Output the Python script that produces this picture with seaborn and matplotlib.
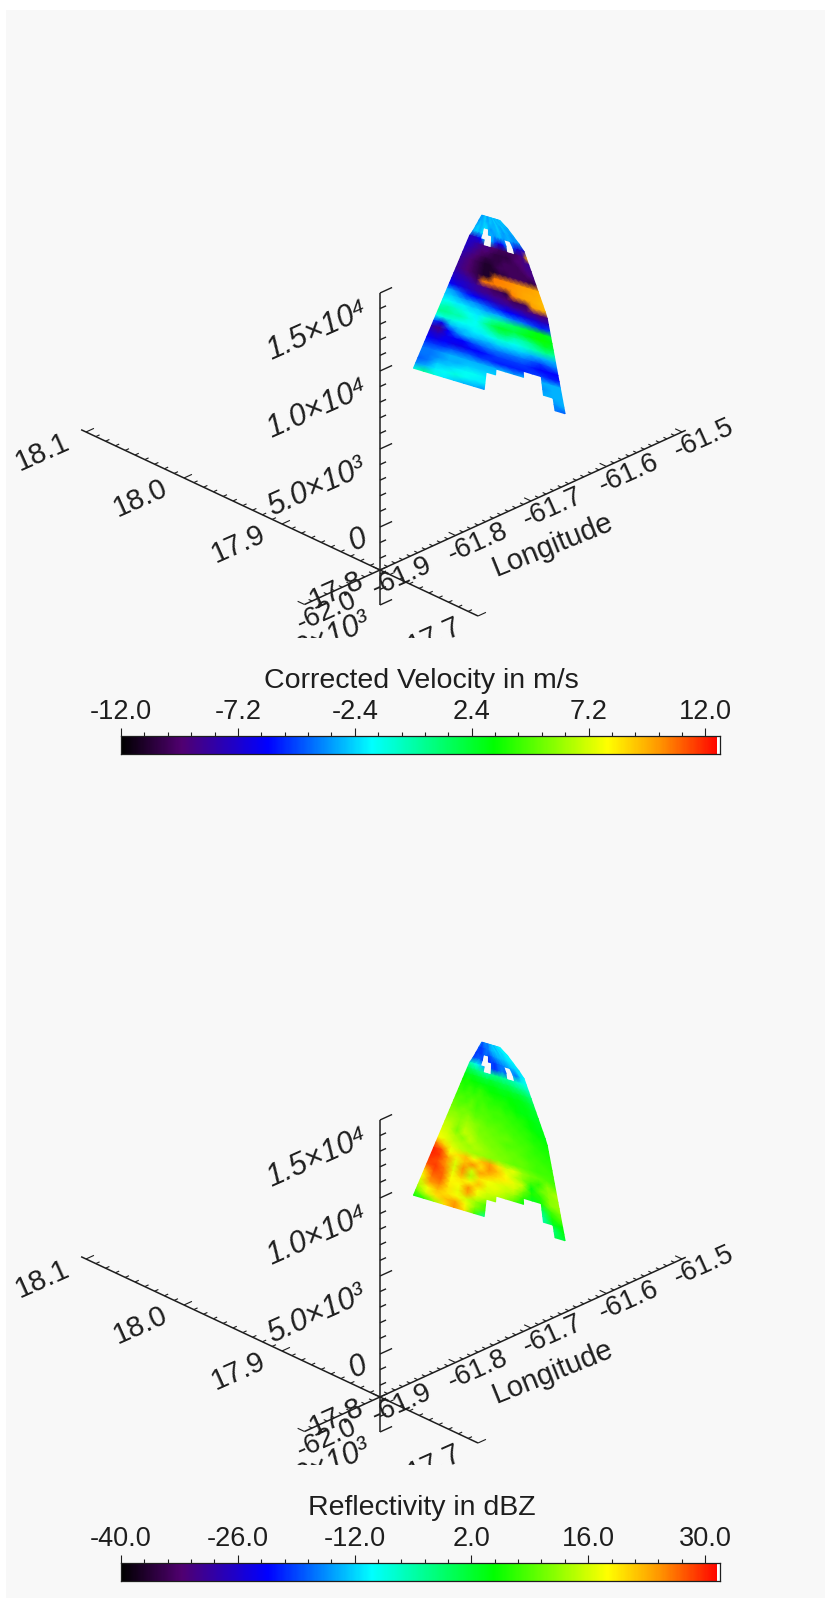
import numpy as np
import matplotlib
matplotlib.use('Agg')
import matplotlib.pyplot as plt
import seaborn as sns
from matplotlib.colors import LinearSegmentedColormap
from matplotlib.patches import Rectangle

nan = float('nan')

# color table, stops are fractions of the bar
table_stops = [0.0, 0.10, 0.244, 0.419, 0.623, 0.813, 0.90, 1.0]
table_colors = ['#000000', '#500070', '#0000ff', '#00ffff', '#00ff00', '#ffff00', '#ff9600', '#ff0000']

# axis ticks
lat_ticks = [17.7, 17.8, 17.9, 18.0, 18.1]
lon_ticks = [-62.0, -61.9, -61.8, -61.7, -61.6, -61.5]
alt_ticks = [-5000, 0, 5000, 10000, 15000]
alt_labels = ['-5.0×10³', '0', '5.0×10³', '1.0×10⁴', '1.5×10⁴']

# wedge outline, metres and degrees
left_alts = [470, 10130, 10480, 11600]
left_lats = [17.95, 17.9028, 17.900, 17.893]
right_alts = [470, 6340, 10160, 11487, 11600]
right_lats = [17.8235, 17.8387, 17.8582, 17.8749, 17.878]

# radial velocity, top row is the highest gate
velocity = [
    [-3, -3.5, -3, -2.5, -3, -3.5, -3, -2.5, -3, -2.5, -3, -2.5, -3, -3, -2.5, -2.5],
    [-3.5, -3, -3, -2.5, -3, -3, -2.5, -3, -3, -2.5, -3, -3, -2.5, -3, -3, -3],
    [-3, -2.5, -3, -2.5, -2, -3, -3.5, -3, -3, -2.5, -3, -3.5, -3, -3, -3.5, -3],
    [-3, -2.5, -3, -2, nan, -3, -3, -3.5, -3, -3, -3.5, -3, -3, -3.5, -3.5, -3.5],
    [-7.5, -7.5, -7, -6, -3, nan, -3, -5, -7, -6, -4, nan, -5, -7, -7.5, -7.5],
    [-7.5, -7.5, -8, -8.5, -9, -9, -9.5, -9.5, -10, -10, -10, -10, -10, -9.5, -9, 9.5],
    [-7.5, -8, -8.5, -9, -9.5, -9.5, -10, -10.5, -10.5, -10.5, -10.5, -10, -9.5, -9.5, -9, -8.5],
    [-8, -8.5, -9, -9.5, -10, -10.5, -10.5, -10.5, -10.5, -10, -10, -10, -10, -9.5, -9, -9],
    [-8.5, -9, -9.5, -10, -10.5, -11, -11, -10.5, -10, -10, -10, -10, -10, -10, -9.5, -9],
    [-8.5, -9, -9.5, -10, -10.5, -11, -11, -11, -10.5, -10.5, -10, -10, -10, -10, -10.5, -10],
    [-8.5, -9, -9.5, -10, -10.5, -11, -11, 10.5, 10.5, 10.3, 10.3, 10.1, 10, 10, 9.8, 9.7],
    [-7.5, -8, -8.5, -9, -10, 10.5, 10.5, 10.5, 10.3, 10.3, 10.1, 10, 9.8, 9.7, 9.7, 9.5],
    [-7, -7.5, -7.5, -8, -8.5, -9, -9.5, -10, -10, -10.5, 10.5, 10, 9.8, 9.7, 9.5, 9.3],
    [-6, -6.5, -7, -7.5, -8, -8.5, -8.5, -9, -9, -9.5, -10, -10, -10, 10, 9.7, 9.5],
    [-3, -3.5, -4.5, -5.5, -6, -6.5, -7, -7.5, -8, -8, -8.5, -8.5, -9, -9, -9.5, -9],
    [-2.5, -2.5, -3, -3.5, -3.5, -4, -4.5, -5, -5.5, -6, -6, -6.5, -7, -7, -7.5, -7.5],
    [-1.5, -1.5, -2, -2, -2.5, -2.5, -3, -3, -3, -3.5, -4, -4, -4.5, -5, -5.5, -5],
    [-0.5, 0, -0.5, -1, -1.5, -2, -1, 0, 0.5, 1, 1.5, 2, 2.5, 3, 3, 2.5],
    [0.5, 0.5, 0, 0, -1, -1.5, 0, 1.5, 2.5, 2.5, 2, 2.5, 3, 3.5, 3.5, 3],
    [-1.5, -1, -1, -1.5, -1.5, -1.5, -1, 0, 1, 1, 0, 0, 0.5, 1.5, 2.5, 2],
    [-5, -6.5, -3, -2.5, -2.5, -2, -2, -1.5, -1, -1, -1.5, -1, -0.5, 0, 0.5, 0],
    [-8, -9, -6, -4, -3, -3, -3, -3, -2.5, -2.5, -2.5, -2.5, -3, -3, -3, -3],
    [-7, -7.5, -6.5, -6, -6, -5, -4.5, -4, -4, -4, -4, -4, -4.5, -5, -4.5, -4],
    [-6, -6.5, -6, -6.5, -6.5, -6, -6, -5.5, -5, -5, -5, -5, -5.5, -6, -6, -6],
    [-5, -5, -5, -4.5, -4.5, -4.5, -5, -5, -5.5, -5.5, -5.5, -5.5, -5, -5, -5.5, -5.5],
    [-4, -4, -3.5, -3, -3, -3, -3, -3, -3, -3, -3.5, -3, nan, -3, -3, -3],
    [-4, -4, -3.5, -3, -3, -2.5, -2.5, -2.5, -2.5, nan, nan, nan, nan, -3.5, -3, -3],
    [-4.5, -4, -2.5, -2.5, -2, -1.5, -1.5, -2, nan, nan, nan, nan, nan, -3, -3, -3],
    [-3.5, -3, -2, -1.5, -1, -1.5, -2, -2, nan, nan, nan, nan, nan, nan, -3.5, -3],
    [-1, 0.5, -1, -2, -2.5, -3, -3, -3.5, nan, nan, nan, nan, nan, nan, -4, -4.5],
]

reflectivity = [
    [-16, -18, -16, -15, -16, -17, -15, -14, -13, -12, -14, -12, -12, -11, -11, -10],
    [-18, -20, -19, -18, -17, -16, -14, -13, -13, -12, -13, -11, -12, -11, -10, -10],
    [-20, -19, -20, -18, -17, -19, -18, -16, -15, -14, -13, -13, -12, -11, -11, -10],
    [-19, -18, -17, -20, nan, -21, -19, -20, -18, -17, -16, -15, -14, -13, -12, -11],
    [-6, -7, -9, -12, -14, nan, -19, -20, -18, -16, -18, nan, -16, -17, -12, -10],
    [0, -1, -2, -3, -4, -5, -4, -3, -3, -4, -4, -5, -6, -7, -8, -9],
    [4, 3, 3, 2, 2, 1, 2, 1, 1, 0, 0, -1, -2, -3, -4, -6],
    [5, 6, 5, 5, 4, 4, 4, 4, 3, 3, 3, 2, 2, 1, 0, -2],
    [7, 6, 7, 6, 7, 6, 5, 5, 5, 4, 5, 4, 4, 3, 2, 0],
    [8, 7, 8, 7, 8, 7, 7, 6, 6, 6, 5, 5, 4, 4, 3, 2],
    [8, 9, 8, 9, 8, 8, 7, 7, 7, 6, 6, 5, 4, 4, 3, 3],
    [10, 9, 9, 10, 8, 9, 8, 8, 8, 7, 7, 6, 6, 5, 4, 3],
    [11, 10, 11, 10, 9, 9, 9, 8, 8, 8, 7, 7, 6, 5, 4, 4],
    [12, 12, 11, 12, 10, 10, 9, 9, 9, 8, 8, 7, 7, 6, 5, 4],
    [13, 13, 12, 13, 12, 11, 10, 10, 9, 9, 8, 8, 7, 6, 6, 5],
    [15, 14, 12, 14, 13, 11, 11, 10, 10, 10, 9, 8, 8, 7, 6, 6],
    [16, 15, 11, 15, 14, 12, 11, 11, 10, 9, 9, 9, 8, 7, 7, 6],
    [17, 16, 14, 12, 15, 13, 12, 11, 11, 10, 10, 9, 8, 8, 7, 7],
    [18, 17, 15, 14, 13, 14, 13, 12, 11, 11, 10, 10, 9, 8, 8, 7],
    [26, 21, 17, 15, 14, 13, 13, 12, 12, 11, 10, 10, 9, 8, 8, 8],
    [30, 28, 18, 20, 22, 18, 22, 24, 20, 16, 17, 13, 11, 10, 9, 8],
    [30, 29, 24, 17, 22, 25, 20, 25, 22, 18, 15, 12, 9, 7, 12, 10],
    [29, 28, 24, 16, 25, 16, 24, 22, 20, 19, 17, 15, 4, 10, 12, 14],
    [28, 29, 26, 17, 24, 14, 20, 18, 17, 16, 16, 11, 6, 7, 12, 13],
    [22, 28, 27, 18, 20, 18, 22, 17, 17, 15, 13, 7, 3, 6, 12, 13],
    [18, 26, 27, 19, 18, 25, 18, 16, 15, 13, 9, 4, nan, 0, 8, 11],
    [16, 24, 25, 20, 17, 24, 17, 14, 12, nan, nan, nan, nan, -4, 6, 9],
    [14, 18, 22, 20, 18, 16, 13, 9, nan, nan, nan, nan, nan, -5, 3, 5],
    [10, 16, 20, 22, 24, 18, 12, 8, nan, nan, nan, nan, nan, nan, -2, 4],
    [4, 7, 13, 20, 25, 20, 8, -4, nan, nan, nan, nan, nan, nan, 0, 2],
]

# colour bars: ticks, and where the bar really ends
velocity_ticks = [-12.0, -7.2, -2.4, 2.4, 7.2, 12.0]
velocity_top = 12.6
reflectivity_ticks = [-40.0, -26.0, -12.0, 2.0, 16.0, 30.0]
reflectivity_top = 31.8

W, H = 825, 1598
FLOOR = -2756
PANEL_SHIFT = 827
BACKGROUND = '#f8f8f8'

sns.set_theme(style='white')
plt.rcParams['font.family'] = ['Liberation Sans', 'DejaVu Sans']
INK = '#1e1e1e'

cmap = LinearSegmentedColormap.from_list('radar', list(zip(table_stops, table_colors)), N=512)
cmap.set_over('white')
cmap.set_bad(BACKGROUND)


def project(lon, lat, alt):
    # oblique view of the box, result is in figure pixels of the upper panel
    dlon = np.asarray(lon) + 61.9
    dlat = np.asarray(lat) - 17.8
    x = 380 + 755 * dlon - 980 * dlat
    y = 527 - 345 * dlon - 460 * dlat - 0.0156 * np.asarray(alt)
    return x, y


def axes_px(fig, left, top, right, bottom):
    return fig.add_axes([left / W, 1 - bottom / H, (right - left) / W, (bottom - top) / H])


def segment(ax, lon, lat, alt, **kw):
    x, y = project(lon, lat, alt)
    ax.plot(x, y, color=INK, solid_capstyle='butt', **kw)


def draw_box(ax):
    # latitude axis, ticks run along longitude
    segment(ax, [-61.9, -61.9], [17.7, 18.105], [FLOOR, FLOOR], lw=1.1)
    for lat in np.arange(17.7, 18.1001, 0.01):
        major = abs(lat * 10 - round(lat * 10)) < 1e-6
        dl = 0.0105 if major else 0.005
        segment(ax, [-61.9, -61.9 + dl], [lat, lat], [FLOOR, FLOOR], lw=0.8)
    for lat in lat_ticks:
        x, y = project(-61.9, lat, FLOOR)
        ax.text(x - 44, y + 20, f'{lat:.1f}', fontsize=21, color=INK, rotation=24,
                ha='center', va='center', rotation_mode='anchor', clip_on=True)

    # longitude axis, ticks run along latitude
    segment(ax, [-62.0, -61.495], [17.8, 17.8], [FLOOR, FLOOR], lw=1.1)
    for lon in np.arange(-62.0, -61.4999, 0.01):
        major = abs(lon * 10 - round(lon * 10)) < 1e-6
        dl = 0.007 if major else 0.0035
        segment(ax, [lon, lon], [17.8, 17.8 + dl], [FLOOR, FLOOR], lw=0.8)
    for lon in lon_ticks:
        x, y = project(lon, 17.8, FLOOR)
        ax.text(x + 22, y + 7, f'{lon:.1f}', fontsize=20, color=INK, rotation=24,
                ha='center', va='center', rotation_mode='anchor', clip_on=True)
    x, y = project(-61.7, 17.8, FLOOR)
    ax.text(x + 22, y + 44, 'Longitude', fontsize=21, color=INK, rotation=22,
            ha='center', va='center', rotation_mode='anchor', clip_on=True)

    # altitude axis
    segment(ax, [-61.9, -61.9], [17.8, 17.8], [-5000, 15000], lw=1.1)
    for alt in np.arange(-5000, 15001, 1000):
        dl = 0.016 if alt % 5000 == 0 else 0.008
        segment(ax, [-61.9, -61.9 + dl], [17.8, 17.8], [alt, alt], lw=1.0)
    for alt, label in zip(alt_ticks, alt_labels):
        x, y = project(-61.9, 17.8, alt)
        dx, dy = (-22, 13) if alt == 0 else (-63, 38)
        ax.text(x + dx, y + dy, label, fontsize=22, color=INK, style='italic', rotation=24,
                ha='center', va='center', rotation_mode='anchor', clip_on=True)


def draw_wedge(ax, values, vmin, vmax):
    # one table value per mesh node, gouraud blends between the gates
    rows, cols = np.shape(values)
    gate_alts = np.linspace(11600, 470, rows)
    lat_a = np.interp(gate_alts, left_alts, left_lats)
    lat_b = np.interp(gate_alts, right_alts, right_lats)
    frac = np.linspace(0, 1, cols)
    lats = lat_a[:, None] + (lat_b - lat_a)[:, None] * frac[None, :]
    lons = -61.661 + 0.29 * (17.95 - lats)
    x, y = project(lons, lats, gate_alts[:, None])
    ax.pcolormesh(x, y, np.ma.masked_invalid(values), cmap=cmap, vmin=vmin, vmax=vmax,
                  shading='gouraud', zorder=3)


def draw_bar(fig, top, ticks, bar_top, title):
    # the last few cells are above the scale and come out white
    cax = axes_px(fig, 121, top, 720, top + 18)
    vmin = ticks[0]
    strip = np.linspace(vmin, bar_top, 599)
    strip[-3:] = bar_top + 1
    sns.heatmap(strip[None, :], ax=cax, cmap=cmap, vmin=vmin, vmax=bar_top, cbar=False,
                xticklabels=False, yticklabels=False)
    scale = 599 / (bar_top - vmin)
    step = (ticks[1] - ticks[0]) / 5
    minor = [ticks[0] + step * i for i in range(26)]
    cax.set_xticks([(v - vmin) * scale for v in ticks])
    cax.set_xticklabels([f'{v:.1f}' for v in ticks])
    cax.set_xticks([(v - vmin) * scale for v in minor], minor=True)
    cax.tick_params(axis='x', which='both', top=True, bottom=False, labeltop=True, labelbottom=False,
                    direction='out', color=INK)
    cax.tick_params(axis='x', which='major', length=5.8, width=0.8, labelsize=19.5, pad=2, labelcolor=INK)
    cax.tick_params(axis='x', which='minor', length=3, width=0.8)
    for spine in cax.spines.values():
        spine.set_visible(True)
        spine.set_color(INK)
        spine.set_linewidth(0.9)
    cax.text(0.502, 1 + 48 / 18, title, transform=cax.transAxes, fontsize=20.5, color=INK,
             ha='center', va='baseline')


fig = plt.figure(figsize=(W / 100, H / 100), dpi=100, facecolor='white')
fig.add_artist(Rectangle((6 / W, 0), 1 - 6 / W, 1 - 10 / H, transform=fig.transFigure,
                         facecolor=BACKGROUND, edgecolor='none', zorder=-5))

panels = [
    (velocity, velocity_ticks, velocity_top, 'Corrected Velocity in m/s'),
    (reflectivity, reflectivity_ticks, reflectivity_top, 'Reflectivity in dBZ'),
]
for i, (values, ticks, bar_top, title) in enumerate(panels):
    shift = i * PANEL_SHIFT
    ax = axes_px(fig, 6, 10 + shift, W, 638 + shift)
    ax.set_xlim(6, W)
    ax.set_ylim(638, 10)
    ax.axis('off')
    draw_wedge(ax, np.array(values, dtype=float), ticks[0], bar_top)
    draw_box(ax)
    draw_bar(fig, 736 + shift, ticks, bar_top, title)

fig.savefig('out.png', dpi=100, facecolor='white')
